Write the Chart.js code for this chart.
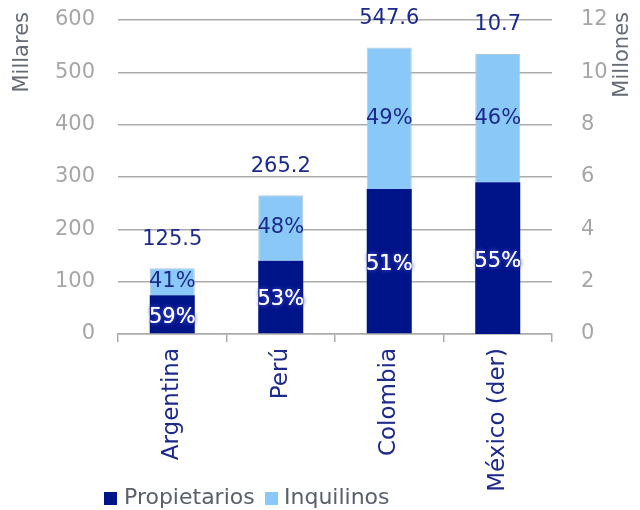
<!DOCTYPE html>
<html>
<head>
<meta charset="utf-8">
<script src="https://cdn.jsdelivr.net/npm/chart.js@4"></script>
<style>
  body { margin: 0; background: #fff; }
  canvas { display: block; }
</style>
</head>
<body>
<canvas id="chart" width="640" height="510"></canvas>
<script>
// --- DATA ---
const categories = ['Argentina', 'Perú', 'Colombia', 'México (der)'];
// left axis, millares
const propietarios = [74, 140, 277, null];
const inquilinos = [51.5, 125.2, 270.6, null];
// right axis, millones (México)
const propietariosMx = [null, null, null, 5.8];
const inquilinosMx = [null, null, null, 4.9];
const totalLabels = ['125.5', '265.2', '547.6', '10.7'];
const propShare = ['59%', '53%', '51%', '55%'];
const inqShare = ['41%', '48%', '49%', '46%'];

const DARK = '#001489';
const LIGHT = '#8AC8F8';
const NAVY = '#1c2a8c';
const GRID = '#ABABAB';
const FONT = '"DejaVu Sans", sans-serif';

// percent labels, totals, axis titles and legend
const labelsPlugin = {
    id: 'labels',
    afterDatasetsDraw(chart) {
        const c = chart.ctx;
        c.save();
        c.textAlign = 'center';
        c.textBaseline = 'middle';
        c.font = '21px ' + FONT;
        chart.data.datasets.forEach((ds, di) => {
            const meta = chart.getDatasetMeta(di);
            meta.data.forEach((el, i) => {
                if (ds.data[i] == null) return;
                const p = el.getProps(['x', 'y', 'base'], true);
                const cy = (p.y + p.base) / 2;
                if (ds.label === 'Propietarios') {
                    c.shadowColor = '#3a46c0';
                    c.shadowBlur = 4;
                    c.fillStyle = '#ffffff';
                    c.fillText(propShare[i], p.x, cy + 3);
                    c.fillText(propShare[i], p.x, cy + 3);
                    c.shadowBlur = 0;
                } else {
                    c.fillStyle = NAVY;
                    c.fillText(inqShare[i], p.x, cy);
                    c.fillText(totalLabels[i], p.x, p.y - 29);
                }
            });
        });
        c.restore();
    },
    afterDraw(chart) {
        const c = chart.ctx;
        c.save();
        c.font = '21px ' + FONT;
        c.fillStyle = '#646b75';
        c.textAlign = 'right';
        c.textBaseline = 'middle';
        [['Millares', 23], ['Millones', 623]].forEach(([t, x]) => {
            c.save();
            c.translate(x, 12);
            c.rotate(-Math.PI / 2);
            c.fillText(t, 0, 0);
            c.restore();
        });
        // legend
        c.font = '22px ' + FONT;
        c.textAlign = 'left';
        c.fillStyle = DARK;
        c.fillRect(104, 492, 13, 13);
        c.fillStyle = '#59606a';
        c.fillText('Propietarios', 124, 498);
        c.fillStyle = LIGHT;
        c.fillRect(265, 492, 13, 13);
        c.fillStyle = '#59606a';
        c.fillText('Inquilinos', 284, 498);
        c.restore();
    }
};

function fixY(w) {
    return function(s) {
        s.width = w;
        s.paddingTop = 0;
        s.paddingBottom = 0;
    };
}

new Chart(document.getElementById('chart'), {
    type: 'bar',
    data: {
        labels: categories,
        datasets: [
            { label: 'Propietarios', data: propietarios, backgroundColor: DARK, yAxisID: 'y', stack: 's' },
            { label: 'Inquilinos', data: inquilinos, backgroundColor: LIGHT, borderColor: '#b4c6d6', borderWidth: 1, yAxisID: 'y', stack: 's' },
            { label: 'Propietarios', data: propietariosMx, backgroundColor: DARK, yAxisID: 'y1', stack: 's' },
            { label: 'Inquilinos', data: inquilinosMx, backgroundColor: LIGHT, borderColor: '#b4c6d6', borderWidth: 1, yAxisID: 'y1', stack: 's' }
        ]
    },
    options: {
        responsive: false,
        animation: false,
        skipNull: true,
        barPercentage: 0.415,
        categoryPercentage: 1,
        layout: { padding: { top: 20, left: 0, right: 0, bottom: 0 } },
        plugins: { legend: { display: false }, tooltip: { enabled: false } },
        scales: {
            x: {
                stacked: true,
                grid: { offset: true, drawOnChartArea: false, tickLength: 8, color: GRID, lineWidth: 1.5 },
                border: { color: GRID, width: 1.5 },
                ticks: { minRotation: 90, maxRotation: 90, padding: 6, color: NAVY, font: { family: FONT, size: 23 } },
                afterFit(s) { s.height = 176; }
            },
            y: {
                stacked: true,
                position: 'left',
                min: 0, max: 600,
                ticks: { stepSize: 100, padding: 23, color: '#A6A6A6', font: { family: FONT, size: 21 } },
                grid: { drawTicks: false, color: GRID, lineWidth: 1.5 },
                border: { display: false },
                afterFit: fixY(118)
            },
            y1: {
                stacked: true,
                position: 'right',
                min: 0, max: 12,
                ticks: { stepSize: 2, padding: 21, color: '#A6A6A6', font: { family: FONT, size: 21 } },
                grid: { display: false },
                border: { display: false },
                afterFit: fixY(88)
            }
        }
    },
    plugins: [labelsPlugin]
});
</script>
</body>
</html>
